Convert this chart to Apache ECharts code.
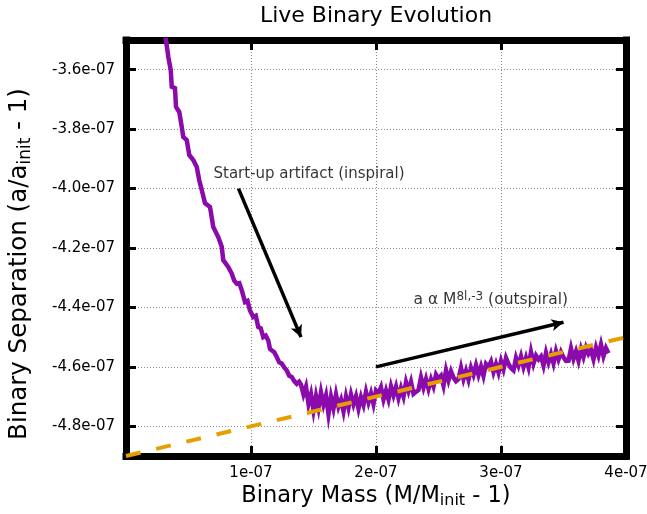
<!DOCTYPE html>
<html>
<head>
<meta charset="utf-8">
<script src="https://cdn.jsdelivr.net/npm/echarts@6/dist/echarts.min.js"></script>
<style>
  html, body { margin: 0; padding: 0; background: #fff; }
  #chart { width: 647px; height: 514px; }
</style>
</head>
<body>
<div id="chart"></div>
<script>
// All values are stored in units of 1e-7 and scaled when handed to ECharts.
const UNIT = 1e-7;

// Live binary run: fractional mass change vs fractional separation change
const mass = [
  0.312, 0.338, 0.358, 0.366, 0.392, 0.400, 0.426, 0.446, 0.458, 0.486,
  0.506, 0.538, 0.566, 0.586, 0.606, 0.632, 0.672, 0.698, 0.738, 0.766,
  0.778, 0.818, 0.846, 0.866, 0.886, 0.906, 0.926, 0.952, 0.972, 0.992,
  1.018, 1.038, 1.058, 1.078, 1.098, 1.118, 1.138, 1.152, 1.166, 1.186,
  1.206, 1.226, 1.246, 1.266, 1.286, 1.306, 1.326, 1.346, 1.366, 1.385,
  1.40, 1.42, 1.44, 1.46, 1.48, 1.50, 1.52, 1.54, 1.56, 1.58,
  1.60, 1.62, 1.64, 1.66, 1.68, 1.70, 1.72, 1.74, 1.76, 1.78,
  1.80, 1.82, 1.84, 1.86, 1.88, 1.90, 1.92, 1.94, 1.96, 1.98,
  2.00, 2.02, 2.04, 2.06, 2.08, 2.10, 2.12, 2.14, 2.16, 2.18,
  2.20, 2.22, 2.24, 2.26, 2.28, 2.30, 2.32, 2.34, 2.36, 2.38,
  2.40, 2.42, 2.44, 2.46, 2.48, 2.50, 2.52, 2.54, 2.56, 2.58,
  2.60, 2.62, 2.64, 2.66, 2.68, 2.70, 2.72, 2.74, 2.76, 2.78,
  2.80, 2.82, 2.84, 2.86, 2.88, 2.90, 2.92, 2.94, 2.96, 2.98,
  3.00, 3.02, 3.04, 3.06, 3.08, 3.10, 3.12, 3.14, 3.16, 3.18,
  3.20, 3.22, 3.24, 3.26, 3.28, 3.30, 3.32, 3.34, 3.36, 3.38,
  3.40, 3.42, 3.44, 3.46, 3.48, 3.50, 3.52, 3.54, 3.56, 3.58,
  3.60, 3.62, 3.64, 3.66, 3.68, 3.70, 3.72, 3.74, 3.76, 3.78,
  3.80, 3.82, 3.84, 3.86
];
const separation = [
  -3.475, -3.556, -3.601, -3.657, -3.662, -3.725, -3.742, -3.792, -3.826, -3.837,
  -3.887, -3.904, -3.927, -3.972, -4.005, -4.049, -4.062, -4.129, -4.163, -4.196,
  -4.241, -4.264, -4.286, -4.310, -4.320, -4.318, -4.342, -4.382, -4.378, -4.410,
  -4.432, -4.428, -4.466, -4.470, -4.500, -4.495, -4.511, -4.540, -4.545, -4.551,
  -4.567, -4.585, -4.589, -4.602, -4.612, -4.630, -4.634, -4.648, -4.657, -4.650,
  -4.660, -4.693, -4.667, -4.725, -4.692, -4.747, -4.698, -4.739, -4.686, -4.727,
  -4.696, -4.759, -4.701, -4.740, -4.693, -4.734, -4.711, -4.750, -4.700, -4.737,
  -4.693, -4.726, -4.699, -4.740, -4.702, -4.728, -4.684, -4.719, -4.690, -4.725,
  -4.680, -4.690, -4.669, -4.710, -4.680, -4.710, -4.666, -4.696, -4.667, -4.705,
  -4.672, -4.700, -4.652, -4.681, -4.651, -4.691, -4.684, -4.678, -4.636, -4.670,
  -4.641, -4.674, -4.642, -4.666, -4.626, -4.640, -4.630, -4.663, -4.612, -4.645,
  -4.615, -4.636, -4.648, -4.641, -4.603, -4.641, -4.613, -4.643, -4.603, -4.627,
  -4.595, -4.627, -4.599, -4.630, -4.590, -4.600, -4.582, -4.618, -4.591, -4.619,
  -4.581, -4.608, -4.570, -4.590, -4.604, -4.612, -4.570, -4.595, -4.565, -4.600,
  -4.570, -4.601, -4.550, -4.589, -4.562, -4.575, -4.565, -4.596, -4.553, -4.584,
  -4.557, -4.588, -4.547, -4.575, -4.550, -4.568, -4.580, -4.579, -4.538, -4.573,
  -4.548, -4.579, -4.540, -4.567, -4.535, -4.556, -4.543, -4.574, -4.535, -4.562,
  -4.525, -4.564, -4.537, -4.554
];

// Outspiral power-law fit (straight in these coordinates)
const fitMass = [0.0, 4.0];
const fitSeparation = [-4.9, -4.5];

// Axis ticks
const xTickValues = [1, 2, 3, 4];
const yTickValues = [-4.8, -4.6, -4.4, -4.2, -4.0, -3.8, -3.6];

// Annotations
const noteMass = [0.7, 2.3];
const noteSeparation = [-3.95, -4.375];
const noteText = [
  '{t|Start-up artifact (inspiral)}',
  '{o|a \u03b1 M}{sup|8l,-3}{o| (outspiral)}'
];
const arrowStart = [[0.9, -4.0], [2.0, -4.6]];
const arrowEnd = [[1.4, -4.5], [3.5, -4.45]];

const FONT = 'DejaVu Sans';
const scale = (xs, ys) => xs.map((x, i) => [x * UNIT, ys[i] * UNIT]);

const frameLine = { show: true, onZero: false, lineStyle: { color: '#000', width: 7, cap: 'square' } };
const tickStyle = { show: true, inside: true, length: 10, lineStyle: { color: '#000', width: 3 } };
const gridLine = { show: true, lineStyle: { color: '#888', width: 1, type: [1, 2] } };
const yCustom = yTickValues.map(v => v * UNIT);

const chart = echarts.init(document.getElementById('chart'), null, { renderer: 'canvas' });
chart.setOption({
  animation: false,
  backgroundColor: '#fff',
  grid: { left: 126, right: 21, top: 40, bottom: 58, show: false, containLabel: false, outerBoundsMode: 'none' },
  graphic: [{
    type: 'text', x: 376, y: 16,
    style: {
      text: 'Live Binary Evolution', font: `22px "${FONT}"`, fill: '#000',
      textAlign: 'center', textVerticalAlign: 'middle'
    }
  }],
  xAxis: [{
    type: 'value', position: 'bottom', min: 0, max: 4 * UNIT, interval: UNIT,
    axisLine: frameLine,
    axisTick: tickStyle,
    splitLine: gridLine,
    axisLabel: {
      fontFamily: FONT, fontSize: 15, color: '#000', margin: 10,
      formatter: v => {
        const k = Math.round(v / UNIT);
        return xTickValues.includes(k) ? `${k}e-07` : '';
      }
    },
    name: '{m|Binary Mass (M/M}{s|init}{m| - 1)}',
    nameLocation: 'middle', nameGap: 27, nameMoveOverlap: false,
    nameTextStyle: {
      rich: {
        m: { fontFamily: FONT, fontSize: 22.5, lineHeight: 26, color: '#000' },
        s: { fontFamily: FONT, fontSize: 16, lineHeight: 10, verticalAlign: 'bottom', color: '#000' }
      }
    }
  }, {
    type: 'value', position: 'top', min: 0, max: 4 * UNIT, interval: UNIT,
    axisLine: frameLine, axisTick: tickStyle,
    axisLabel: { show: false }, splitLine: { show: false }
  }],
  yAxis: [{
    type: 'value', position: 'left', min: -4.9 * UNIT, max: -3.5 * UNIT,
    axisLine: frameLine,
    axisTick: Object.assign({ customValues: yCustom }, tickStyle),
    splitLine: gridLine,
    axisLabel: {
      customValues: yCustom,
      fontFamily: FONT, fontSize: 15, color: '#000', margin: 11,
      formatter: v => `${(v / UNIT).toFixed(1)}e-07`
    },
    name: '{m|Binary Separation (a/a}{s|init}{m| - 1)}',
    nameLocation: 'middle', nameGap: 92, nameMoveOverlap: false,
    nameTextStyle: {
      padding: [0, 32, 0, 0],
      rich: {
        m: { fontFamily: FONT, fontSize: 24.5, lineHeight: 28, color: '#000' },
        s: { fontFamily: FONT, fontSize: 17, lineHeight: 10, verticalAlign: 'bottom', color: '#000' }
      }
    }
  }, {
    type: 'value', position: 'right', min: -4.9 * UNIT, max: -3.5 * UNIT,
    axisLine: frameLine,
    axisTick: Object.assign({ customValues: yCustom }, tickStyle),
    axisLabel: { show: false }, splitLine: { show: false }
  }],
  series: [{
    name: 'binary',
    type: 'line',
    data: scale(mass, separation),
    showSymbol: false,
    symbol: 'none',
    clip: true,
    z: 2,
    lineStyle: { color: '#8a0aab', width: 4.5, join: 'miter' }
  }, {
    name: 'fit',
    type: 'line',
    data: scale(fitMass, fitSeparation),
    showSymbol: false,
    symbol: 'none',
    clip: true,
    z: 3,
    lineStyle: { color: '#e69f00', width: 4, type: [15, 16] }
  }, {
    name: 'notes',
    type: 'scatter',
    symbolSize: 0,
    silent: true,
    z: 5,
    data: scale(noteMass, noteSeparation).map((p, i) => ({ value: p, text: noteText[i] })),
    label: {
      show: true, position: 'right', distance: 0, align: 'left', verticalAlign: 'middle',
      color: '#000', textBorderWidth: 0, textBorderColor: 'transparent',
      formatter: p => p.data.text,
      rich: {
        t: { fontFamily: FONT, fontSize: 15, lineHeight: 18, color: '#000' },
        o: { fontFamily: FONT, fontSize: 15.5, lineHeight: 18, color: '#000' },
        sup: { fontFamily: FONT, fontSize: 12, lineHeight: 6, verticalAlign: 'top', color: '#000' }
      }
    },
    markLine: {
      silent: true,
      symbol: ['none', 'arrow'],
      symbolSize: [9, 12],
      label: { show: false },
      itemStyle: { color: '#000' },
      lineStyle: { color: '#000', width: 3.5, type: 'solid' },
      data: arrowStart.map((s, i) => [
        { coord: [s[0] * UNIT, s[1] * UNIT] },
        { coord: [arrowEnd[i][0] * UNIT, arrowEnd[i][1] * UNIT] }
      ])
    }
  }]
});
</script>
</body>
</html>
